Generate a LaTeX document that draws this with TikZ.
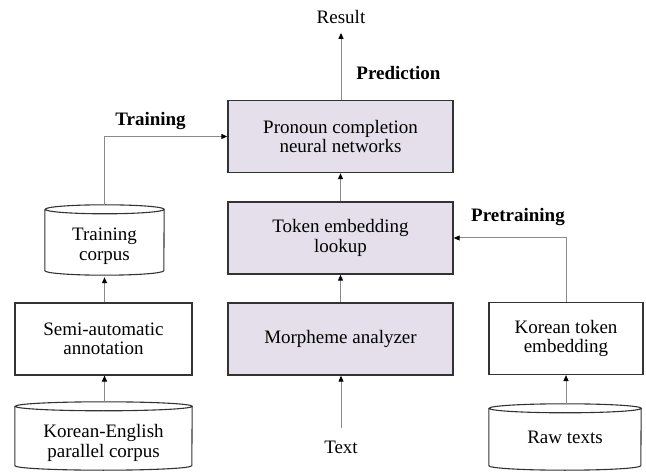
\documentclass[tikz,border=0pt]{standalone}
\usepackage{fontspec}
\setmainfont{Liberation Serif}
\usetikzlibrary{arrows.meta}

\definecolor{stagefill}{HTML}{E4DFEA}
\definecolor{linkgray}{HTML}{8A8A8A}
\definecolor{edgegray}{HTML}{333333}

% Cylinder outline drawn around a named node: #1 node, #2 half width, #3 end radius
\newcommand\drumoutline[3]{%
  \draw[drumline]
    ([yshift=-#3]#1.north west) -- ([yshift=#3]#1.south west)
    arc[start angle=180,end angle=360,x radius=#2,y radius=#3]
    -- ([yshift=-#3]#1.north east)
    arc[start angle=0,end angle=360,x radius=#2,y radius=#3];}

\begin{document}
\begin{tikzpicture}[x=1pt,y=1pt,
  every node/.style={font=\fontsize{19}{19.5}\selectfont, align=center, inner sep=0pt},
  stage/.style={draw=edgegray, line width=1.4pt, fill=stagefill,
    minimum width=225, minimum height=72},
  whitebox/.style={draw=edgegray, line width=1.1pt, fill=white, minimum height=72},
  drumnode/.style={minimum width=#1},
  drumline/.style={draw=edgegray, line width=1.1pt},
  link/.style={draw=linkgray, line width=1pt,
    -{Triangle[length=6,width=5,color=black,fill=black]}},
  phase/.style={font=\fontsize{19}{19.5}\selectfont\bfseries}
]
\useasboundingbox (0,0) rectangle (646,472);

% central processing chain
\node[stage] (net) at (340.5,335.5) {Pronoun completion\\neural networks};
\node[stage] (lookup) at (340.5,234) {Token embedding\\lookup};
\node[stage] (morph) at (340.5,133) {Morpheme analyzer};
\node (result) at (341,455) {Result};
\node (text) at (341,25) {Text};

% left column: corpus preparation
\node[drumnode=119, minimum height=70] (tcorpus) at (104.5,232) {};
\drumoutline{tcorpus}{59.5}{4.5}
\node (tcorpustext) at (104.5,226) {Training\\corpus};
\node[whitebox, minimum width=177] (semi) at (103.5,133) {Semi-automatic\\annotation};
\node[drumnode=177, minimum height=68] (kecorpus) at (103.5,36) {};
\drumoutline{kecorpus}{88.5}{4.5}
\node (kecorpustext) at (103.5,29) {Korean-English\\parallel corpus};

% right column: token embedding pretraining
\node[whitebox, minimum width=154] (kembed) at (566,133.5) {Korean token\\embedding};
\node[drumnode=152, minimum height=66] (raw) at (565,35) {};
\drumoutline{raw}{76}{4.5}
\node (rawtext) at (565,35) {Raw texts};

% phase labels
\node[phase] (ltrain) at (150.5,351) {Training};
\node[phase] (lpre) at (518,255) {Pretraining};
\node[phase] (lpred) at (398.5,399) {Prediction};

% connectors
\draw[link] (morph) -- (lookup);
\draw[link] (lookup) -- (net);
\draw[link] (net.north -| result) -- ([yshift=-9]result.south);
\draw[link] ([yshift=12]text.north) -- (morph.south -| text);
\draw[link] (kecorpus.north -| tcorpus) -- (semi.south -| tcorpus);
\draw[link] (semi.north -| tcorpus) -- ([yshift=-2]tcorpus.south);
\draw[link] (tcorpus.north) |- (net.west);
\draw[link] (raw.north -| kembed) -- (kembed.south);
\draw[link] (kembed.north) |- (lookup.east);
\end{tikzpicture}
\end{document}
